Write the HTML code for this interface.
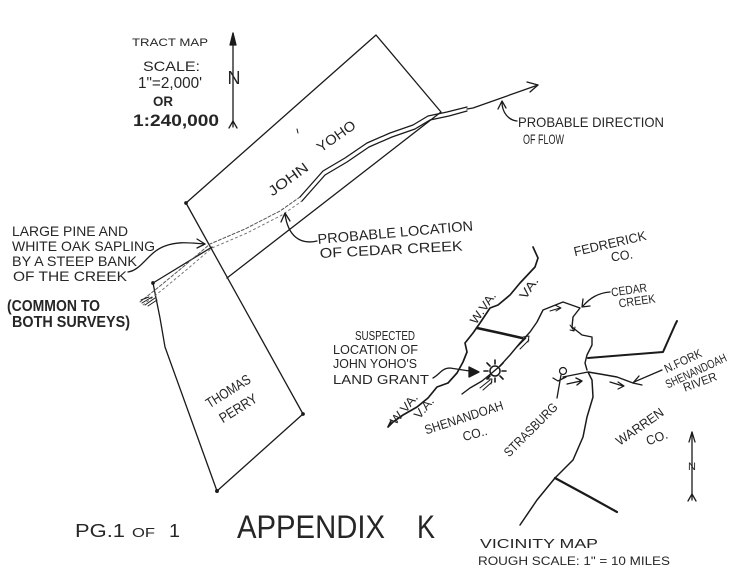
<!DOCTYPE html>
<html><head><meta charset="utf-8"><style>
html,body{margin:0;padding:0;background:#fff;}
svg{display:block;}
text{font-family:"Liberation Sans",sans-serif;fill:#262626;}
</style></head><body>
<svg width="744" height="568" viewBox="0 0 744 568" xmlns="http://www.w3.org/2000/svg">
<rect width="744" height="568" fill="#fff"/>
<g fill="none" stroke="#1a1a1a" stroke-width="1.3" stroke-linecap="round" stroke-linejoin="round">
  <line x1="233" y1="33" x2="233" y2="127"/>
  <path d="M230,45 L233,33 L236,45 Z" fill="#1a1a1a"/>
  <path d="M229,128 L233,121 L237,128"/>
  <path d="M186,203 L376,35 L441,112 L227,278"/>
  <line x1="186" y1="203" x2="303" y2="414"/>
  <path d="M212,247 L153,283 L160,318 L165,347 L217,491 L303,414"/>
  <circle cx="153" cy="283" r="1.2" fill="#1a1a1a"/>
  <circle cx="217" cy="491" r="1.3" fill="#1a1a1a"/>
  <circle cx="303" cy="414" r="1.2" fill="#1a1a1a"/>
  <circle cx="186" cy="203" r="1.2" fill="#1a1a1a"/>
  <path d="M140,302 L160,286 L183,267 L210,244 L245,229 L280,211 L300,197" stroke="#555" stroke-width="1" stroke-dasharray="3,2"/>
  <path d="M143,305 L162,290 L185,271 L212,248 L247,233 L282,215 L302,201" stroke="#777" stroke-width="1" stroke-dasharray="2,3"/>
  <path d="M300,197 L323,171 L345,158 L367,143 L390,133 L413,125 L428,116 L447,112 L467,107" stroke-width="1.3"/>
  <path d="M302,201 L325,175 L347,162 L369,147 L392,137 L415,129 L430,120 L449,116 L467,111" stroke-width="1.3"/>
  <path d="M141,300 L149,297 M142,303 L152,297 M145,305 L155,298 M148,306 L157,300" stroke-width="1"/>
  <path d="M467,109 L473,108 L538,85"/>
  <path d="M527,82 L538,85 L530,92"/>
  <path d="M517,121 C508,120 502,112 502,102"/>
  <path d="M498,109 L502,101 L506,108"/>
  <path d="M317,241 C300,245 288,236 285,214"/>
  <path d="M281,222 L285,213 L290,221"/>
  <path d="M128,272 C142,270 148,252 165,246 C178,241 190,243 205,244"/>
  <path d="M197,239 L205,244 L197,248"/>
  <path d="M297,129 L298,133" stroke-width="1"/>

  <path d="M533,247 L538,258 L535,267 L520,283 L510,295 L498,305 L490,308 L480,323 L473,333 L465,343 L467,352 L463,362 L457,373 L448,383 L437,387 L428,398 L417,407 L403,415 L393,422 L388,427 L391,421" stroke-width="1.7"/>
  <path d="M477,328 L500,333 L522,338" stroke-width="2.6"/>
  <path d="M587,370 L585,363 L587,355 L592,345 L592,337 L582,335 L572,327 L573,317 L580,308 L563,302 L543,310 L537,322 L530,332 L520,343 L510,355 L500,366 L493,372 L482,381 L470,388 L462,394" stroke-width="1.4"/>
  <circle cx="495" cy="371" r="5" stroke-width="1.5"/>
  <path d="M495,360 L495,364 M495,378 L495,382 M484,371 L488,371 M502,371 L506,371 M487,363 L490,366 M500,376 L503,379 M487,379 L490,376 M500,366 L503,363" stroke-width="1.6"/>
  <path d="M433,378 C440,374 442,368 450,368 L476,372"/>
  <path d="M469,367 L479,372 L469,377 Z" fill="#1a1a1a"/>
  <path d="M480,388 L490,380 M483,390 L492,382 M487,379 L492,379 L491,384" stroke-width="1"/>
  <path d="M517,347 L526,338 M520,349 L529,340 M523,337 L529,336 L528,342" stroke-width="1"/>
  <path d="M550,311 L560,308 M555,305 L561,308 L556,311" stroke-width="1"/>
  <path d="M570,325 L574,331 M570,330 L574,331 L575,327" stroke-width="1"/>
  <path d="M588,358 L663,352 L675,325 L677,321" stroke-width="2"/>
  <path d="M563,377 L573,375 L588,372 L600,374 L617,377 L633,383" stroke-width="1.4"/>
  <path d="M588,372 L592,380 L593,397 L587,417 L583,437 L573,460 L555,478 L537,500 L520,525" stroke-width="1.5"/>
  <path d="M555,478 L590,497 L617,512" stroke-width="2.2"/>
  <path d="M567,384 L581,381 M576,378 L582,381 L577,385" stroke-width="1.4"/>
  <path d="M610,382 L623,386 M618,382 L624,386 L618,389" stroke-width="1.2"/>
  <circle cx="563" cy="371" r="3.5" stroke-width="1.2"/>
  <path d="M561,375 L557,398 M553,378 L558,381 L566,377" stroke-width="1.3"/>
  <path d="M610,292 C598,293 590,298 583,306"/>
  <path d="M583,299 L582,307 L590,306"/>
  <path d="M662,370 L634,382"/>
  <path d="M639,376 L633,383 L642,385"/>
  <line x1="692" y1="432" x2="692" y2="500"/>
  <path d="M689,442 L692,432 L695,442"/>
  <path d="M688,501 L692,494 L696,501"/>
</g>

<text x="132" y="46" font-size="11" textLength="76" lengthAdjust="spacingAndGlyphs">TRACT MAP</text>
<text x="143" y="71" font-size="14" textLength="57" lengthAdjust="spacingAndGlyphs">SCALE:</text>
<text x="138" y="88" font-size="16" textLength="64" lengthAdjust="spacingAndGlyphs">1"=2,000'</text>
<text x="153" y="106" font-size="14" font-weight="bold" textLength="20" lengthAdjust="spacingAndGlyphs">OR</text>
<text x="133" y="126" font-size="17" font-weight="bold" textLength="86" lengthAdjust="spacingAndGlyphs">1:240,000</text>
<text x="234" y="84" font-size="18" text-anchor="middle">N</text>

<text transform="translate(288,179) rotate(-36)" x="0" y="5" font-size="14" text-anchor="middle" textLength="46" lengthAdjust="spacingAndGlyphs">JOHN</text>
<text transform="translate(336,136) rotate(-35)" x="0" y="5" font-size="14" text-anchor="middle" textLength="44" lengthAdjust="spacingAndGlyphs">YOHO</text>

<text transform="translate(228,391) rotate(-32)" x="0" y="5" font-size="14" text-anchor="middle" textLength="50" lengthAdjust="spacingAndGlyphs">THOMAS</text>
<text transform="translate(238,408) rotate(-32)" x="0" y="5" font-size="14" text-anchor="middle" textLength="42" lengthAdjust="spacingAndGlyphs">PERRY</text>

<text x="12" y="236" font-size="14" textLength="116" lengthAdjust="spacingAndGlyphs">LARGE PINE AND</text>
<text x="12" y="251" font-size="14" textLength="143" lengthAdjust="spacingAndGlyphs">WHITE OAK SAPLING</text>
<text x="12" y="266" font-size="14" textLength="125" lengthAdjust="spacingAndGlyphs">BY A STEEP BANK</text>
<text x="13" y="281" font-size="14" textLength="114" lengthAdjust="spacingAndGlyphs">OF THE CREEK</text>
<text x="7" y="311" font-size="16" font-weight="bold" textLength="93" lengthAdjust="spacingAndGlyphs">(COMMON TO</text>
<text x="12" y="327" font-size="16" font-weight="bold" textLength="118" lengthAdjust="spacingAndGlyphs">BOTH SURVEYS)</text>

<text x="318" y="244" font-size="14" textLength="156" lengthAdjust="spacingAndGlyphs" transform="rotate(-5 318 244)">PROBABLE LOCATION</text>
<text x="320" y="258" font-size="14" textLength="143" lengthAdjust="spacingAndGlyphs" transform="rotate(-3 320 258)">OF CEDAR CREEK</text>

<text x="518" y="127" font-size="14" textLength="146" lengthAdjust="spacingAndGlyphs">PROBABLE DIRECTION</text>
<text x="523" y="144" font-size="14" textLength="41" lengthAdjust="spacingAndGlyphs">OF FLOW</text>

<text x="355" y="340" font-size="13" textLength="60" lengthAdjust="spacingAndGlyphs">SUSPECTED</text>
<text x="333" y="354" font-size="13" textLength="85" lengthAdjust="spacingAndGlyphs">LOCATION OF</text>
<text x="333" y="368" font-size="13" textLength="84" lengthAdjust="spacingAndGlyphs">JOHN YOHO'S</text>
<text x="333" y="384" font-size="13" textLength="96" lengthAdjust="spacingAndGlyphs">LAND GRANT</text>

<text transform="translate(483,308) rotate(-55)" x="0" y="4" font-size="12" text-anchor="middle" textLength="36" lengthAdjust="spacingAndGlyphs">W.VA.</text>
<text transform="translate(529,288) rotate(-55)" x="0" y="4" font-size="12" text-anchor="middle" textLength="24" lengthAdjust="spacingAndGlyphs">VA.</text>
<text transform="translate(404,409) rotate(-50)" x="0" y="4" font-size="12" text-anchor="middle" textLength="36" lengthAdjust="spacingAndGlyphs">W.VA.</text>
<text transform="translate(424,408) rotate(-50)" x="0" y="4" font-size="12" text-anchor="middle" textLength="24" lengthAdjust="spacingAndGlyphs">V.A.</text>

<text transform="translate(464,418) rotate(-18)" x="0" y="4" font-size="13" text-anchor="middle" textLength="82" lengthAdjust="spacingAndGlyphs">SHENANDOAH</text>
<text transform="translate(475,434) rotate(-15)" x="0" y="4" font-size="13" text-anchor="middle" textLength="25" lengthAdjust="spacingAndGlyphs">CO..</text>
<text transform="translate(531,430) rotate(-45)" x="0" y="4" font-size="13" text-anchor="middle" textLength="70" lengthAdjust="spacingAndGlyphs">STRASBURG</text>

<text transform="translate(610,244) rotate(-13)" x="0" y="4" font-size="13" text-anchor="middle" textLength="74" lengthAdjust="spacingAndGlyphs">FEDRERICK</text>
<text transform="translate(622,256) rotate(-8)" x="0" y="4" font-size="13" text-anchor="middle" textLength="22" lengthAdjust="spacingAndGlyphs">CO.</text>
<text transform="translate(629,290) rotate(-8)" x="0" y="4" font-size="12" text-anchor="middle" textLength="36" lengthAdjust="spacingAndGlyphs">CEDAR</text>
<text transform="translate(637,301) rotate(-8)" x="0" y="4" font-size="12" text-anchor="middle" textLength="37" lengthAdjust="spacingAndGlyphs">CREEK</text>

<text transform="translate(683,361) rotate(-25)" x="0" y="4" font-size="12" text-anchor="middle" textLength="40" lengthAdjust="spacingAndGlyphs">N.FORK</text>
<text transform="translate(696,371) rotate(-25)" x="0" y="4" font-size="12" text-anchor="middle" textLength="66" lengthAdjust="spacingAndGlyphs">SHENANDOAH</text>
<text transform="translate(700,382) rotate(-20)" x="0" y="4" font-size="12" text-anchor="middle" textLength="35" lengthAdjust="spacingAndGlyphs">RIVER</text>

<text transform="translate(640,427) rotate(-35)" x="0" y="4" font-size="13" text-anchor="middle" textLength="55" lengthAdjust="spacingAndGlyphs">WARREN</text>
<text transform="translate(657,438) rotate(-20)" x="0" y="4" font-size="13" text-anchor="middle" textLength="22" lengthAdjust="spacingAndGlyphs">CO.</text>

<text x="692" y="470" font-size="11" text-anchor="middle">N</text>

<text x="480" y="548" font-size="13" textLength="118" lengthAdjust="spacingAndGlyphs">VICINITY MAP</text>
<text x="478" y="565" font-size="12" textLength="192" lengthAdjust="spacingAndGlyphs">ROUGH SCALE: 1" = 10 MILES</text>

<text x="75" y="537" font-size="18" textLength="50" lengthAdjust="spacingAndGlyphs">PG.1</text>
<text x="132" y="537" font-size="13" textLength="23" lengthAdjust="spacingAndGlyphs">OF</text>
<text x="169" y="537" font-size="18" textLength="11" lengthAdjust="spacingAndGlyphs">1</text>
<text x="237" y="538" font-size="32" textLength="148" lengthAdjust="spacingAndGlyphs">APPENDIX</text>
<text x="417" y="538" font-size="32" textLength="18" lengthAdjust="spacingAndGlyphs">K</text>
</svg>
</body></html>
